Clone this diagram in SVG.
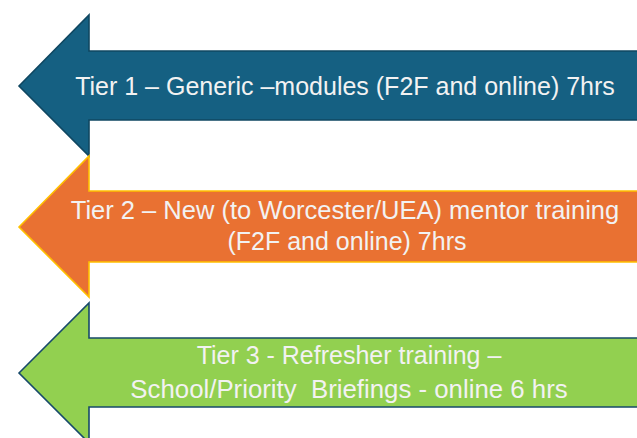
<svg xmlns="http://www.w3.org/2000/svg" width="637" height="438" viewBox="0 0 637 438">
<style>
.lbl{font-family:"Liberation Sans",Arial,sans-serif;font-size:25px;fill:#F2F2F2;text-anchor:middle}
.a{stroke-width:1.6;stroke-linejoin:miter}
</style>
<rect width="637" height="438" fill="#FFFFFF"/>
<g id="tier1">
<path class="a" d="M19,86 L89,15 L89,51 L645,51 L645,120 L89,120 L89,156 Z" fill="#156082" stroke="#0F4761"/>
<text class="lbl" x="345" y="95">Tier 1 – Generic –modules (F2F and online) 7hrs</text>
</g>
<g id="tier2">
<path class="a" d="M19,227 L89,156 L89,191 L645,191 L645,262 L89,262 L89,297 Z" fill="#E97132" stroke="#FFC000"/>
<text class="lbl" x="345" y="219" style="font-size:25.5px">Tier 2 – New (to Worcester/UEA) mentor training</text>
<text class="lbl" x="347" y="250">(F2F and online) 7hrs</text>
</g>
<g id="tier3">
<path class="a" d="M19,373 L89,303 L89,338 L645,338 L645,407 L89,407 L89,443 Z" fill="#92D050" stroke="#17496A"/>
<text class="lbl" x="349" y="364">Tier 3 - Refresher training –</text>
<text class="lbl" x="349" y="398" style="font-size:25.8px" xml:space="preserve">School/Priority  Briefings - online 6 hrs</text>
</g>
<g id="connectors"/>
</svg>
